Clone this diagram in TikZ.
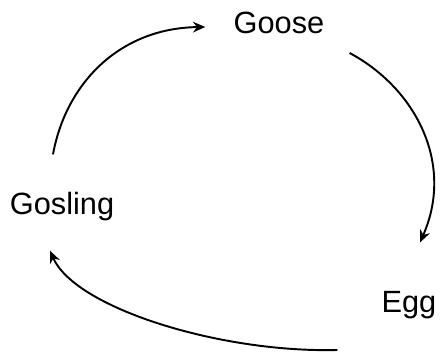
\documentclass[tikz,border=0pt]{standalone}
\usepackage{fontspec}
\setmainfont{Liberation Sans}
\usetikzlibrary{arrows.meta,calc}

\begin{document}
\begin{tikzpicture}[x=0.02cm,y=0.02cm,>={Stealth[length=7pt,width=6pt]},
    stage/.style={inner sep=0pt,font=\fontsize{17.5}{20}\selectfont},
    lifearrow/.style={->,line width=1.1pt}]
    \useasboundingbox (0,0) rectangle (441,358);
    \node[stage,anchor=base] (goose) at (279,324) {Goose};
    \node[stage,anchor=base] (gosling) at (62,143) {Gosling};
    \node[stage,anchor=base] (egg) at (409,45) {Egg};
    \draw[lifearrow] ([shift={(-9,38)}]gosling.north) .. controls (66,275) and (120,330) .. ([shift={(-28,7)}]goose.base west);
    \draw[lifearrow] ([shift={(25,-19)}]goose.base east) .. controls (415,270) and (455,195) .. ([shift={(11,49)}]egg.north);
    \draw[lifearrow] ([shift={(-44,-37)}]egg.base west) .. controls (220,5) and (75,50) .. ([shift={(-12,-29)}]gosling.south);
\end{tikzpicture}
\end{document}
